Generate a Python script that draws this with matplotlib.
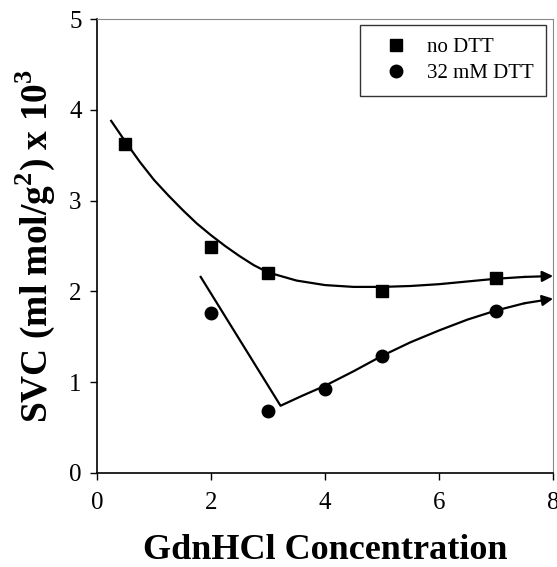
import matplotlib.pyplot as plt

plt.rcParams['font.family'] = ['Liberation Serif', 'DejaVu Serif']
plt.rcParams['mathtext.fontset'] = 'custom'
plt.rcParams['mathtext.rm'] = 'Liberation Serif'
plt.rcParams['mathtext.bf'] = 'Liberation Serif:bold'

# measured points
x_nodtt = [0.5, 2, 3, 5, 7]
y_nodtt = [3.62, 2.49, 2.20, 2.01, 2.15]
x_dtt = [2, 3, 4, 5, 7]
y_dtt = [1.76, 0.68, 0.92, 1.29, 1.78]

# hand-drawn trend lines
x_top = [0.25, 0.5, 0.75, 1, 1.25, 1.5, 1.75, 2, 2.25, 2.5, 2.75, 3, 3.5, 4, 4.5, 5, 5.5, 6, 6.5, 7, 7.5, 8]
y_top = [3.88, 3.65, 3.43, 3.23, 3.06, 2.90, 2.75, 2.62, 2.50, 2.39, 2.29, 2.21, 2.12, 2.07, 2.05, 2.05, 2.06, 2.08, 2.11, 2.14, 2.16, 2.17]
x_low = [1.82, 3.22, 3.6, 4, 4.5, 5, 5.5, 6, 6.5, 7, 7.5, 8]
y_low = [2.16, 0.74, 0.85, 0.96, 1.12, 1.29, 1.44, 1.57, 1.69, 1.79, 1.87, 1.92]


def main():
    fig = plt.figure(figsize=(5.57, 5.67), dpi=100)
    ax = fig.add_axes([0.174, 0.166, 0.819, 0.800])

    for xs, ys in [(x_top, y_top), (x_low, y_low)]:
        ax.plot(xs[:-1], ys[:-1], color='black', lw=1.6, clip_on=False,
                solid_joinstyle='round')
        ax.annotate("", xy=(xs[-1], ys[-1]), xytext=(xs[-2], ys[-2]),
                    arrowprops=dict(arrowstyle='-|>', color='black', lw=1.6,
                                    mutation_scale=16, shrinkA=0, shrinkB=0),
                    annotation_clip=False)

    ax.plot(x_nodtt, y_nodtt, 's', color='black', ms=8, label='no DTT', clip_on=False)
    ax.plot(x_dtt, y_dtt, 'o', color='black', ms=9, label='32 mM DTT', clip_on=False)

    ax.set_xlim(0, 8)
    ax.set_ylim(0, 5)
    ax.set_xticks([0, 2, 4, 6, 8])
    ax.set_yticks([0, 1, 2, 3, 4, 5])
    ax.tick_params(direction='out', length=5, width=1, labelsize=18)
    ax.tick_params(axis='x', pad=9)
    ax.tick_params(axis='y', pad=6)
    for s in ['top', 'right']:
        ax.spines[s].set_color('#888888')
        ax.spines[s].set_linewidth(0.8)
    for s in ['left', 'bottom']:
        ax.spines[s].set_linewidth(1.2)

    ax.set_xlabel('GdnHCl Concentration', fontsize=26, fontweight='bold', labelpad=14)
    ax.set_ylabel(r'SVC (ml mol/g$^\mathbf{2}$) x 10$^\mathbf{3}$', fontsize=27,
                  fontweight='bold', labelpad=9)

    leg = ax.legend(loc='upper right', bbox_to_anchor=(0.985, 0.987), borderaxespad=0,
                    fontsize=15, frameon=True, fancybox=False, edgecolor='black',
                    handletextpad=0.4, borderpad=0.6, labelspacing=0.3,
                    handlelength=2.2)
    leg.get_frame().set_linewidth(1.0)

    fig.savefig('out.png', dpi=100)


if __name__ == "__main__":
    main()
